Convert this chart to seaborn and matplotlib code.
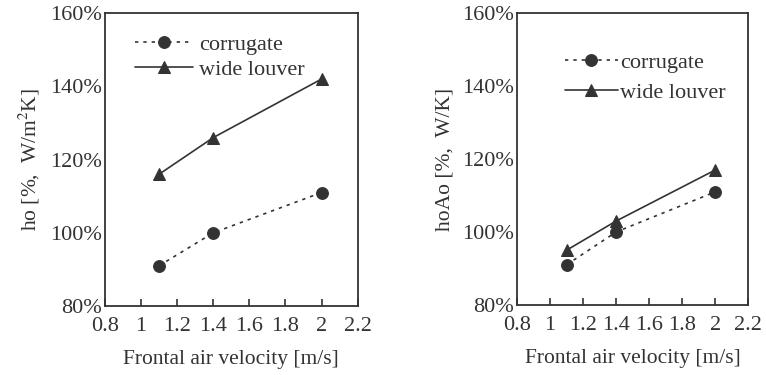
import pandas as pd
import matplotlib
matplotlib.use("Agg")
import matplotlib.pyplot as plt
import seaborn as sns
from matplotlib.ticker import FuncFormatter

# 数据
velocity = [1.1, 1.4, 2.0]
series = ["corrugate", "wide louver"]
ho_corrugate = [91, 100, 111]
ho_wide = [116, 126, 142]
hoAo_corrugate = [91, 100, 111]
hoAo_wide = [95, 103, 117]

x_ticks = [0.8, 1, 1.2, 1.4, 1.6, 1.8, 2, 2.2]
y_ticks = [80, 100, 120, 140, 160]


def make_df(a, b):
    return pd.DataFrame({
        "v": velocity * 2,
        "val": a + b,
        "fin": [series[0]] * len(a) + [series[1]] * len(b),
    })


sns.set_theme(style="white")
plt.rcParams["font.family"] = ["Liberation Serif", "DejaVu Serif"]
plt.rcParams["mathtext.fontset"] = "stix"

ink = "#333333"
fig = plt.figure(figsize=(7.66, 3.75), dpi=100)
ax1 = fig.add_axes([0.137, 0.184, 0.330, 0.781])
ax2 = fig.add_axes([0.675, 0.187, 0.302, 0.778])

# (轴, 数据, y标签, 图例位置, 图例行距, 文字间距, 线长)
panels = [
    (ax1, make_df(ho_corrugate, ho_wide), "ho [%,  W/m$^2$K]", (0.04, 0.995), 0.2, 0.3, 2.6),
    (ax2, make_df(hoAo_corrugate, hoAo_wide), "hoAo [%,  W/K]", (0.12, 0.935), 0.42, 0.1, 2.4),
]

for ax, df, ylab, loc, lsp, htp, hl in panels:
    sns.lineplot(data=df, x="v", y="val", hue="fin", style="fin",
                 palette=[ink, ink], dashes={series[0]: (2, 3), series[1]: ""},
                 markers={series[0]: "o", series[1]: "^"},
                 markersize=8.5, markeredgecolor=ink, linewidth=1.2, ax=ax)
    ax.set_xlim(0.8, 2.2)
    ax.set_ylim(80, 160)
    ax.set_xticks(x_ticks)
    ax.set_xticklabels(["0.8", "1", "1.2", "1.4", "1.6", "1.8", "2", "2.2"])
    ax.set_yticks(y_ticks)
    ax.yaxis.set_major_formatter(FuncFormatter(lambda v, p: f"{v:.0f}%"))
    ax.tick_params(axis="x", direction="in", length=5, width=1.2, colors=ink,
                   labelsize=16, pad=8, bottom=True)
    ax.tick_params(axis="y", direction="in", length=0, colors=ink, labelsize=16, pad=2,
                   left=True)
    for s in ax.spines.values():
        s.set_color(ink)
        s.set_linewidth(1.3)
    ax.set_xlabel("Frontal air velocity [m/s]", fontsize=15.5, color=ink, labelpad=10)
    ax.set_ylabel(ylab, fontsize=15.5, color=ink, labelpad=6)
    leg = ax.legend(loc="upper left", bbox_to_anchor=loc, frameon=False,
                    fontsize=16, handlelength=hl, handletextpad=htp,
                    labelspacing=lsp, title=None)
    for t in leg.get_texts():
        t.set_color(ink)

fig.savefig("out.png", dpi=100)
